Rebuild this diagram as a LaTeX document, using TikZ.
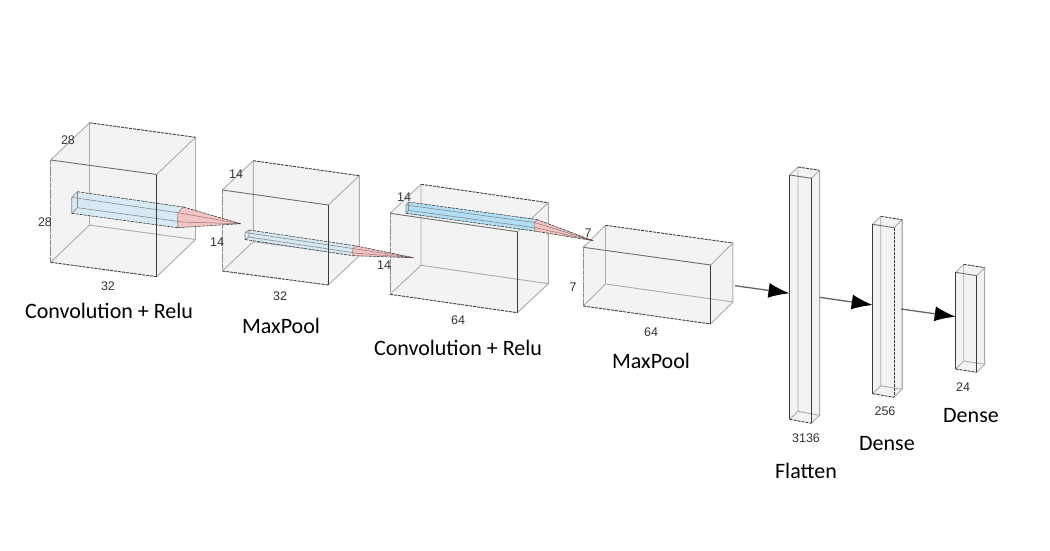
\documentclass[tikz,border=0pt]{standalone}
\usepackage{fontspec}
\setmainfont{Carlito}
\newfontfamily\dimfont{Liberation Sans}
\usetikzlibrary{calc,arrows.meta}
\definecolor{hullfill}{HTML}{F3F3F3}
\definecolor{edgegrey}{HTML}{ABABAB}
\definecolor{edgemid}{HTML}{6E6E6E}
\definecolor{edgedark}{HTML}{3C3C3C}
\definecolor{kblue}{HTML}{D3E8F5}
\definecolor{kbluedeep}{HTML}{ABDDF6}
\definecolor{kpink}{HTML}{F4C4C4}
\tikzset{
  x=1pt,y=-1pt,
  hull/.style={fill=hullfill,draw=none},
  inner edge/.style={draw=edgegrey,line width=.9pt},
  top edge/.style={draw=edgemid,line width=.9pt},
  solid edge/.style={draw=edgedark,line width=.9pt},
  dash edge/.style={draw=edgedark,line width=.9pt,dash pattern=on 3pt off 1pt},
  side edge/.style={draw=edgemid!80,line width=.8pt,dash pattern=on 5pt off .7pt},
  dimlabel/.style={font=\dimfont\fontsize{12.5}{14}\selectfont,text=black!80,inner sep=0pt},
  caption/.style={font=\fontsize{22}{25}\selectfont,text=black,inner sep=0pt},
  flow/.style={draw=black!60,line width=1.3pt,-{Latex[length=21pt,width=15pt,black]}},
  kface/.style={draw=edgegrey!80!black,line width=.6pt},
  kshade/.style={draw=edgedark,line width=.6pt,dash pattern=on 3pt off 1pt},
}
% name, front TL, front TR, front BR, front BL, depth vector
\newcommand{\cuboid}[6]{%
  \coordinate (#1ftl) at #2; \coordinate (#1ftr) at #3;
  \coordinate (#1fbr) at #4; \coordinate (#1fbl) at #5;
  \coordinate (#1btl) at ($(#1ftl)+#6$); \coordinate (#1btr) at ($(#1ftr)+#6$);
  \coordinate (#1bbr) at ($(#1fbr)+#6$); \coordinate (#1bbl) at ($(#1fbl)+#6$);
  \fill[hull] (#1ftl) -- (#1btl) -- (#1btr) -- (#1bbr) -- (#1fbr) -- (#1fbl) -- cycle;
  \draw[inner edge] (#1btl) -- (#1bbl) -- (#1bbr) -- (#1btr);
  \draw[inner edge] (#1bbl) -- (#1fbl);
  \draw[inner edge] (#1ftl) -- (#1btl);
  \draw[inner edge] (#1ftr) -- (#1btr);
  \draw[inner edge] (#1fbr) -- (#1bbr);
  \draw[dash edge] (#1btl) -- (#1btr);
  \draw[dash edge] (#1fbl) -- (#1fbr);
  \draw[top edge] (#1ftl) -- (#1ftr);
  \draw[side edge] (#1ftl) -- (#1fbl);
}
% name, front TL, front BL, front TR, front BR, depth, tip, blue colour
\newcommand{\kernelbar}[8]{%
  \coordinate (#1ftl) at #2; \coordinate (#1fbl) at #3;
  \coordinate (#1ftr) at #4; \coordinate (#1fbr) at #5;
  \coordinate (#1btl) at ($(#1ftl)+#6$); \coordinate (#1btr) at ($(#1ftr)+#6$);
  \coordinate (#1bbr) at ($(#1fbr)+#6$); \coordinate (#1bbl) at ($(#1fbl)+#6$);
  \coordinate (#1tip) at #7;
  \fill[kpink] (#1btr) -- (#1tip) -- (#1fbr) -- (#1ftr) -- cycle;
  \draw[draw=kpink!60!black,line width=.5pt] (#1ftr) -- (#1tip) (#1bbr) -- (#1tip);
  \draw[kshade] (#1btr) -- (#1tip) (#1fbr) -- (#1tip);
  \fill[#8,fill opacity=.9] (#1ftl) -- (#1btl) -- (#1btr) -- (#1ftr) -- (#1fbr) -- (#1fbl) -- cycle;
  \draw[kface] (#1ftl) -- (#1fbl) (#1ftl) -- (#1ftr) -- (#1fbr) (#1ftl) -- (#1btl) (#1ftr) -- (#1btr);
  \draw[kface] (#1btl) -- (#1bbl) -- (#1bbr) (#1fbl) -- (#1bbl);
  \draw[kshade] (#1btl) -- (#1btr) (#1fbl) -- (#1fbr);
}
\begin{document}
\begin{tikzpicture}
\useasboundingbox (0,0) rectangle (1050,550);
\fill[white] (0,0) rectangle (1050,550);

% cuboids
\cuboid{a}{(50.7,160)}{(156.7,174.5)}{(156.7,276.7)}{(50.7,262.3)}{(38.8,-37.2)}
\cuboid{b}{(222.3,190)}{(328.3,205)}{(328.3,285)}{(222.3,271)}{(31,-29.3)}
\cuboid{c}{(390,213.3)}{(517.3,231.7)}{(517.3,312.7)}{(390,294.3)}{(31,-29)}
\cuboid{d}{(583.3,247.3)}{(710.7,265)}{(710.7,324)}{(583.3,306)}{(22.2,-22)}
\cuboid{e}{(789.7,175)}{(811.3,178.3)}{(811.3,423.3)}{(789.7,419.3)}{(8.3,-8)}
\cuboid{f}{(872.7,224.3)}{(894,227.7)}{(894,397.3)}{(872.7,393.7)}{(8,-8)}
\cuboid{g}{(955.7,272.3)}{(976.7,275.7)}{(976.7,372.3)}{(955.7,369)}{(8,-8)}

% kernels with their cones, above every cuboid
\kernelbar{ka}{(71.7,197.3)}{(71.7,213.3)}{(177.7,212.7)}{(177.7,227.7)}{(5.8,-5.6)}{(240.7,223.7)}{kblue}
\kernelbar{kb}{(245,232.5)}{(245,239.5)}{(352.7,248.5)}{(352.7,255.7)}{(4,-2.5)}{(413.3,257.7)}{kblue}
\kernelbar{kc}{(406,205)}{(406,213.3)}{(534.3,222.5)}{(534.3,231)}{(2.5,-3)}{(593.3,240.7)}{kbluedeep}

% front right edges, above the kernels
\draw[solid edge] (aftr) -- (afbr);
\draw[solid edge] (bftr) -- (bfbr);
\draw[solid edge] (cftr) -- (cfbr);
\draw[solid edge] (dftr) -- (dfbr);
\draw[solid edge] (eftl) -- (efbl) (eftr) -- (efbr);
\draw[solid edge] (fftl) -- (ffbl);
\draw[dash edge] (fftr) -- (ffbr);
\draw[solid edge] (gftl) -- (gfbl) (gftr) -- (gfbr);
\draw[inner edge] (ebtr) -- (ebbr);
\draw[inner edge] (fbtr) -- (fbbr);
\draw[inner edge] (gbtr) -- (gbbr);

% connectors
\coordinate (outd) at (735,285.7);
\coordinate (ine) at (789.5,293.3);
\coordinate (oute) at (819.5,297.3);
\coordinate (inf) at (872.7,305);
\coordinate (outf) at (901,309);
\coordinate (ing) at (955.7,316.7);
\draw[flow] (outd) -- (ine);
\draw[flow] (oute) -- (inf);
\draw[flow] (outf) -- (ing);

% dimension labels
\node[dimlabel] (la) at (68,140) {28};
\node[dimlabel] (lb) at (45,222) {28};
\node[dimlabel] (lc) at (108,286) {32};
\node[dimlabel] (ld) at (236,174) {14};
\node[dimlabel] (le) at (217,242) {14};
\node[dimlabel] (lf) at (280,296) {32};
\node[dimlabel] (lg) at (404,197) {14};
\node[dimlabel] (lh) at (384,265) {14};
\node[dimlabel] (li) at (458,320) {64};
\node[dimlabel] (lj) at (588,233) {7};
\node[dimlabel] (lk) at (573,287) {7};
\node[dimlabel] (ll) at (651,332) {64};
\node[dimlabel] (lm) at (806,438) {3136};
\node[dimlabel] (ln) at (885,411) {256};
\node[dimlabel] (lo) at (963,387) {24};

% captions
\node[caption] (ca) at (109,311) {Convolution + Relu};
\node[caption] (cb) at (281,326) {MaxPool};
\node[caption] (cc) at (458,348) {Convolution + Relu};
\node[caption] (cd) at (651,361) {MaxPool};
\node[caption] (ce) at (806,471) {Flatten};
\node[caption] (cf) at (887,444) {Dense};
\node[caption] (cg) at (971,416) {Dense};
\end{tikzpicture}
\end{document}
